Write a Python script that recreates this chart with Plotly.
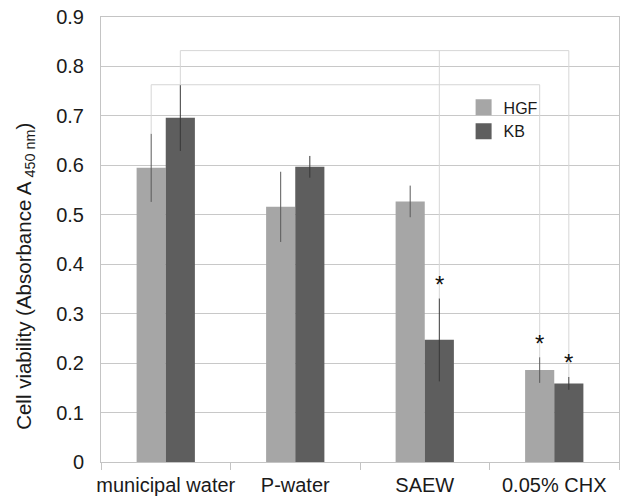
import plotly.graph_objects as go

# ---- data ----
categories = ["municipal water", "P-water", "SAEW", "0.05% CHX"]
hgf_values = [0.595, 0.516, 0.527, 0.186]
hgf_errors = [0.069, 0.071, 0.032, 0.026]
kb_values = [0.696, 0.597, 0.247, 0.159]
kb_errors = [0.067, 0.022, 0.084, 0.013]
series_names = ["HGF", "KB"]
y_tick_values = [0, 0.1, 0.2, 0.3, 0.4, 0.5, 0.6, 0.7, 0.8, 0.9]
y_tick_labels = ["0", "0.1", "0.2", "0.3", "0.4", "0.5", "0.6", "0.7", "0.8", "0.9"]
# significance marks (category, series)
star_marks = [("SAEW", "KB"), ("0.05% CHX", "HGF"), ("0.05% CHX", "KB")]
# comparison brackets: level and the bars they connect
bracket_levels = [0.763, 0.832]
bracket_ends = [
    [("municipal water", "HGF"), ("0.05% CHX", "HGF")],
    [("municipal water", "KB"), ("SAEW", "KB"), ("0.05% CHX", "KB")],
]

# ---- style ----
colors = {"HGF": "#a6a6a6", "KB": "#5e5e5e"}
err_colors = {"HGF": "#5a5a5a", "KB": "#383838"}
FONT = "Liberation Sans, Arial, sans-serif"
TEXT = "#1a1a1a"
BARGAP = 0.55
half = (1 - BARGAP) / 4.0
offsets = {"HGF": -half, "KB": half}
values = {"HGF": hgf_values, "KB": kb_values}
errors = {"HGF": hgf_errors, "KB": kb_errors}

fig = go.Figure()
for s in series_names:
    fig.add_trace(go.Bar(
        x=categories, y=values[s], name=s, showlegend=False,
        marker=dict(color=colors[s], line=dict(width=0)),
        error_y=dict(type="data", array=errors[s], visible=True,
                     width=0, thickness=1, color=err_colors[s]),
    ))
# legend entries (square swatches)
for s in series_names:
    fig.add_trace(go.Scatter(
        x=[None], y=[None], mode="markers", name=s,
        marker=dict(symbol="square", size=17, color=colors[s], line=dict(width=0)),
    ))

def top_of(cat, s):
    i = categories.index(cat)
    return values[s][i] + errors[s][i]

def xpos(cat, s):
    return categories.index(cat) + offsets[s]

shapes = []
for level, ends in zip(bracket_levels, bracket_ends):
    xs = [xpos(c, s) for c, s in ends]
    shapes.append(dict(type="line", xref="x", yref="y", x0=min(xs), x1=max(xs),
                       y0=level, y1=level, line=dict(color="#d6d6d6", width=1)))
    for c, s in ends:
        shapes.append(dict(type="line", xref="x", yref="y", x0=xpos(c, s), x1=xpos(c, s),
                           y0=level, y1=top_of(c, s), line=dict(color="#d6d6d6", width=1)))

annotations = []
for c, s in star_marks:
    annotations.append(dict(x=xpos(c, s), y=top_of(c, s), xref="x", yref="y",
                            text="*", showarrow=False, yanchor="middle",
                            yshift=14, font=dict(family=FONT, size=24, color="#111")))
annotations.append(dict(
    xref="paper", yref="paper", x=-0.147, y=0.418, xanchor="center", yanchor="middle",
    textangle=-90, showarrow=False,
    text="Cell viability (Absorbance A<sub> 450 nm</sub>)",
    font=dict(family=FONT, size=20.5, color=TEXT)))

fig.update_layout(
    width=623, height=498,
    margin=dict(l=101, r=4, t=17, b=36, autoexpand=False),
    paper_bgcolor="white", plot_bgcolor="white",
    barmode="group", bargap=BARGAP, bargroupgap=0,
    font=dict(family=FONT, size=20, color=TEXT),
    shapes=shapes, annotations=annotations,
    showlegend=True,
    legend=dict(x=0.700, y=0.835, xanchor="left", yanchor="top",
                font=dict(family=FONT, size=16, color=TEXT),
                bgcolor="rgba(0,0,0,0)", itemsizing="trace", tracegroupgap=0,
                itemwidth=30),
)
fig.update_xaxes(
    type="category", range=[-0.5, 3.5], automargin=False, tickangle=0,
    showgrid=False, showline=True, linecolor="#c4c4c4", linewidth=1, mirror=True,
    ticks="outside", tickson="boundaries", ticklen=7, tickcolor="#c4c4c4",
    ticklabelstandoff=5,
    tickfont=dict(family=FONT, size=20, color=TEXT),
)
fig.update_yaxes(
    range=[0, 0.9], tickvals=y_tick_values, ticktext=y_tick_labels, automargin=False,
    showgrid=True, gridcolor="#c8c8c8", gridwidth=1,
    showline=True, linecolor="#c4c4c4", linewidth=1, mirror=True,
    ticks="", ticklabelstandoff=12, zeroline=False, ticklabeloverflow="allow",
    tickfont=dict(family=FONT, size=20, color=TEXT),
)

# remove the browser's default 8px page margin so the figure fills the window
fig.write_html("out.html", config={"displayModeBar": False},
               post_script="document.body.style.margin='0';")
